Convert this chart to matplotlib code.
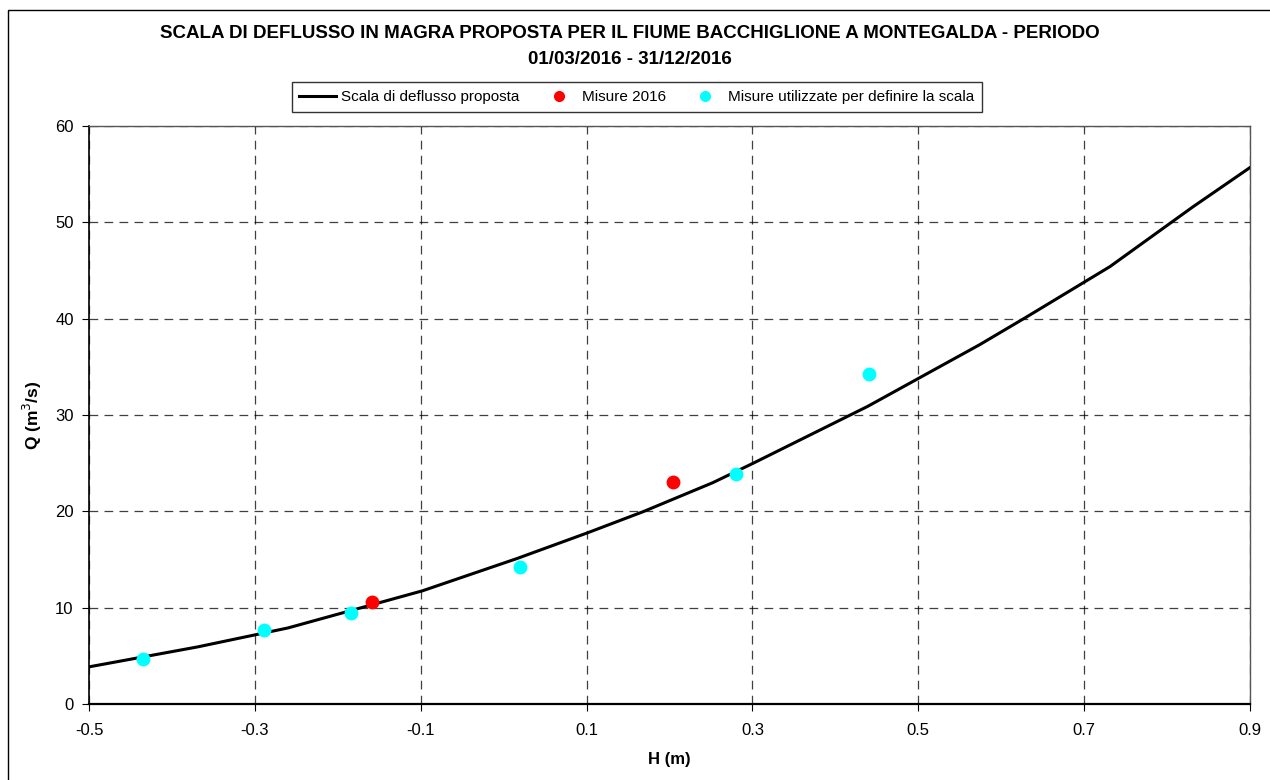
import matplotlib.pyplot as plt
from matplotlib.lines import Line2D
from matplotlib.patches import Rectangle

plt.rcParams['font.family'] = ['Liberation Sans', 'DejaVu Sans']

# scala di deflusso proposta (H in m, Q in m3/s)
h_scala = [-0.51, -0.369, -0.26, -0.098, 0.016, 0.102, 0.168, 0.252, 0.301,
           0.439, 0.574, 0.631, 0.731, 0.831, 0.912]
q_scala = [3.7, 5.93, 7.9, 11.75, 15.1, 17.8, 19.96, 22.97, 25.0,
           30.9, 37.3, 40.2, 45.4, 51.6, 56.4]

# misure 2016
h_2016 = [-0.159, 0.204]
q_2016 = [10.6, 23.0]

# misure utilizzate per definire la scala
h_usate = [-0.435, -0.289, -0.184, 0.020, 0.280, 0.441]
q_usate = [4.7, 7.7, 9.5, 14.2, 23.9, 34.3]

xticks = [-0.5, -0.3, -0.1, 0.1, 0.3, 0.5, 0.7, 0.9]
yticks = [0, 10, 20, 30, 40, 50, 60]

fig = plt.figure(figsize=(12.7, 7.8), dpi=100)
ax = fig.add_axes([0.0701, 0.0974, 0.9142, 0.7411])

# bordo esterno del grafico
fig.patches.append(Rectangle((8 / 1270, -0.1), 1.2, (770 - (-78)) / 780,
                             transform=fig.transFigure, fill=False,
                             edgecolor='black', linewidth=1))

ax.plot(h_scala, q_scala, color='black', linewidth=2.2, zorder=3)
ax.plot(h_2016, q_2016, 'o', color='#ff0000', ms=10, mec='none', zorder=4)
ax.plot(h_usate, q_usate, 'o', color='#00ffff', ms=10, mec='none', zorder=4)

ax.set_xlim(-0.5, 0.9)
ax.set_ylim(0, 60)
ax.set_xticks(xticks)
ax.set_xticklabels(['%.1f' % t for t in xticks])
ax.set_yticks(yticks)
ax.tick_params(direction='out', length=5, labelsize=12)
ax.tick_params(axis='x', pad=9)
ax.tick_params(axis='y', pad=6)
ax.grid(True, color='black', linestyle=(0, (7, 5)), linewidth=0.9, alpha=0.75)
ax.set_axisbelow(True)
for s in ['top', 'right']:
    ax.spines[s].set_color('#555555')
    ax.spines[s].set_linewidth(1)
ax.spines['bottom'].set_linewidth(1.6)
ax.spines['left'].set_linewidth(1.2)

ax.set_xlabel('H (m)', fontsize=12, fontweight='bold', labelpad=10)
ax.set_ylabel('Q (m$^3$/s)', fontsize=12.5, fontweight='bold', labelpad=8)

fig.text(0.496, 1 - 33 / 780, 'SCALA DI DEFLUSSO IN MAGRA PROPOSTA PER IL FIUME BACCHIGLIONE A MONTEGALDA - PERIODO',
         ha='center', va='center', fontsize=13.5, fontweight='bold')
fig.text(0.496, 1 - 60 / 780, '01/03/2016 - 31/12/2016',
         ha='center', va='center', fontsize=13.5, fontweight='bold')

handles = [Line2D([], [], color='black', linewidth=2.2),
           Line2D([], [], marker='o', color='#ff0000', ls='none', ms=8, mec='none'),
           Line2D([], [], marker='o', color='#00ffff', ls='none', ms=8, mec='none')]
labels = ['Scala di deflusso proposta', 'Misure 2016',
          'Misure utilizzate per definire la scala']
leg = fig.legend(handles, labels, loc='center', bbox_to_anchor=(637 / 1270, 1 - 97 / 780),
                 ncol=3, fontsize=11, frameon=True, fancybox=False,
                 edgecolor='black', handlelength=2.4, handletextpad=0.3,
                 columnspacing=1.4, borderpad=0.5)
leg.get_frame().set_linewidth(1)

fig.savefig('out.png', dpi=100)
